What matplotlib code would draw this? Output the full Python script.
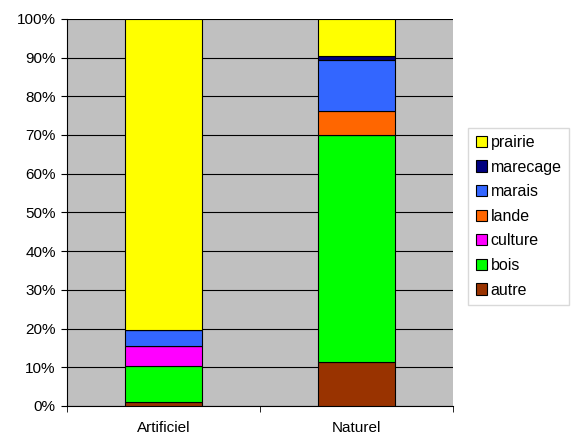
import matplotlib

matplotlib.use("Agg")
import matplotlib.pyplot as plt
import numpy as np

plt.rcParams["font.family"] = ["Liberation Sans", "DejaVu Sans"]

categories = ["Artificiel", "Naturel"]
series = ["autre", "bois", "culture", "lande", "marais", "marecage", "prairie"]
autre = [0.9, 11.4]
bois = [9.5, 58.6]
culture = [5.1, 0.0]
lande = [0.0, 6.2]
marais = [4.1, 13.2]
marecage = [0.0, 1.0]
prairie = [80.4, 9.6]
colors = ["#993300", "#00FF00", "#FF00FF", "#FF6600", "#3366FF", "#000080", "#FFFF00"]

values = [autre, bois, culture, lande, marais, marecage, prairie]

figure, axis = plt.subplots(figsize=(5.77, 4.37), dpi=100)
figure.subplots_adjust(left=0.116, right=0.785, bottom=0.071, top=0.957)
axis.set_facecolor("#C0C0C0")

positions = np.arange(len(categories))
bottom = np.zeros(len(categories))
handles = []
for name, vals, color in zip(series, values, colors):
    bars = axis.bar(positions, vals, 0.4, bottom=bottom, color=color, edgecolor="black", linewidth=0.8, label=name, zorder=3)
    bottom += np.array(vals)
    handles.append(bars)

axis.set_xlim(-0.5, 1.5)
axis.set_ylim(0, 100)
axis.set_yticks(np.arange(0, 101, 10))
axis.set_yticklabels([f"{v}%" for v in range(0, 101, 10)], fontsize=11)
axis.set_xticks(positions)
axis.set_xticklabels(categories, fontsize=11)
axis.tick_params(axis="x", length=0, pad=11)
axis.tick_params(axis="y", length=4, direction="out", color="black", pad=4)
axis.set_xticks([-0.5, 0.5, 1.5], minor=True)
axis.tick_params(axis="x", which="minor", length=4, direction="out")
axis.grid(True, axis="y", color="black", linewidth=0.8, zorder=1)
axis.set_axisbelow(True)
for side in ["top", "right"]:
    axis.spines[side].set_visible(False)
for side in ["left", "bottom"]:
    axis.spines[side].set_color("black")

legend = axis.legend(
    handles[::-1],
    series[::-1],
    loc="center left",
    bbox_to_anchor=(1.04, 0.49),
    frameon=True,
    fancybox=False,
    edgecolor="#D0D0D0",
    fontsize=11.5,
    handlelength=0.7,
    handleheight=0.7,
    handletextpad=0.25,
    labelspacing=0.6,
    borderpad=0.45,
    borderaxespad=0.0,
)

figure.savefig("out.png", dpi=100)
